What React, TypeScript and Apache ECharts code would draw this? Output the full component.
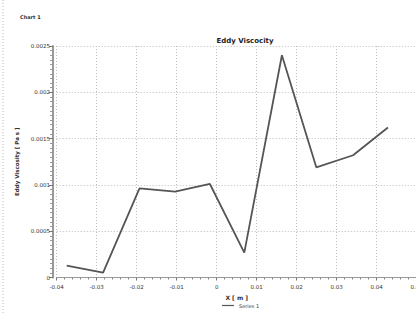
import React, { useEffect, useRef } from "react";
import * as echarts from "echarts";

const xValues = [-0.0375, -0.0284, -0.0193, -0.0104, -0.0017, 0.0069, 0.0163, 0.0249, 0.0341, 0.0428];
const yValues = [0.000127, 0.000052, 0.000963, 0.000927, 0.00101, 0.000268, 0.0024, 0.00119, 0.00132, 0.00162];
const seriesName = "Series 1";
const chartTitle = "Eddy Viscocity";
const xAxisName = "X [ m ]";
const yAxisName = "Eddy Viscosity [ Pa s ]";

const FONT = "DejaVu Sans";
const W = 428;

export default function App() {
  const ref = useRef<HTMLDivElement>(null);
  useEffect(() => {
    document.body.style.margin = "0";
    document.body.style.overflow = "hidden";
    document.documentElement.style.overflow = "hidden";
    const chart = echarts.init(ref.current!, null, { renderer: "svg" });
    const data = xValues.map((x, i) => [x, yValues[i]]);
    chart.setOption({
      animation: false,
      backgroundColor: "#ffffff",
      textStyle: { fontFamily: FONT },
      title: {
        text: chartTitle,
        left: 240,
        top: 32,
        textAlign: "center",
        textStyle: { fontSize: 7, fontWeight: "bold", color: "#222", fontFamily: FONT },
      },
      graphic: [
        {
          type: "line",
          shape: { x1: 3, y1: 0, x2: 3, y2: 315 },
          style: { stroke: "#bbb", lineWidth: 1, lineDash: [1, 2] },
        },
        {
          type: "text",
          left: 20,
          top: 14,
          style: { text: "Chart 1", fontSize: 5, fontWeight: "bold", fill: "#333", fontFamily: FONT },
        },
      ],
      legend: {
        data: [seriesName],
        left: 222,
        top: 303,
        itemWidth: 12,
        itemHeight: 6,
        icon: "path://M0,0H10V1H0Z",
        textStyle: { fontSize: 5, color: "#333", fontFamily: FONT },
        itemGap: 3,
        padding: 0,
      },
      grid: { left: 56.7, right: W - 416.7, top: 46, bottom: 37.5 },
      xAxis: {
        type: "value",
        min: -0.04,
        max: 0.05,
        interval: 0.01,
        name: xAxisName,
        nameLocation: "middle",
        nameGap: 16,
        nameTextStyle: { fontSize: 6, fontWeight: "bold", color: "#333", fontFamily: FONT },
        axisLine: { onZero: false, lineStyle: { color: "#999", width: 1 } },
        axisTick: { show: true, length: 3, lineStyle: { color: "#777" } },
        minorTick: { show: true, splitNumber: 5, length: 2, lineStyle: { color: "#888" } },
        axisLabel: { fontSize: 5.5, color: "#333", margin: 6, fontFamily: FONT },
        splitLine: { show: true, lineStyle: { color: "#bbb", type: [1, 2], width: 1 } },
      },
      yAxis: {
        type: "value",
        min: 0,
        max: 0.0025,
        interval: 0.0005,
        offset: 3.7,
        name: yAxisName,
        nameLocation: "middle",
        nameGap: 28,
        nameRotate: 90,
        nameTextStyle: { fontSize: 5.5, fontWeight: "bold", color: "#333", fontFamily: FONT },
        axisLine: { show: true, onZero: false, lineStyle: { color: "#999", width: 2 } },
        axisTick: { show: true, length: 4, lineStyle: { color: "#777" } },
        minorTick: { show: true, splitNumber: 10, length: 3, lineStyle: { color: "#999" } },
        axisLabel: { fontSize: 5.5, color: "#333", margin: 3, fontFamily: FONT },
        splitLine: { show: true, lineStyle: { color: "#bbb", type: [1, 2], width: 1 } },
      },
      series: [
        {
          name: seriesName,
          type: "line",
          data,
          showSymbol: false,
          symbol: "none",
          lineStyle: { color: "#555", width: 1.8 },
          itemStyle: { color: "#555" },
        },
      ],
    });
    return () => chart.dispose();
  }, []);
  return <div ref={ref} style={{ width: W, height: 315 }} />;
}
